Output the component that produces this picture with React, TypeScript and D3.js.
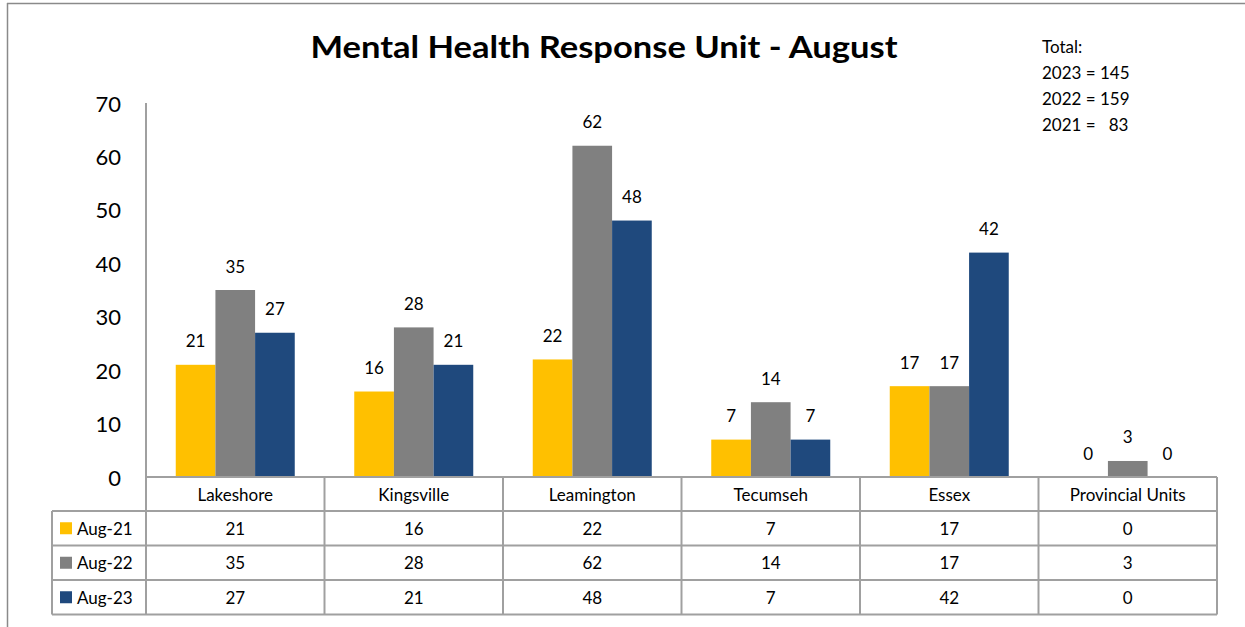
import React from 'react';
import * as d3 from 'd3';

const categories = ['Lakeshore', 'Kingsville', 'Leamington', 'Tecumseh', 'Essex', 'Provincial Units'];
const seriesNames = ['Aug-21', 'Aug-22', 'Aug-23'];
const aug21 = [21, 16, 22, 7, 17, 0];
const aug22 = [35, 28, 62, 14, 17, 3];
const aug23 = [27, 21, 48, 7, 42, 0];
const seriesColors = ['#FFC000', '#808080', '#1F497D'];
const yTicks = [0, 10, 20, 30, 40, 50, 60, 70];
const totalLines = ['Total:', '2023 = 145', '2022 = 159', '2021 =   83'];

const W = 1245;
const H = 627;
const FONT = 'Lato, "Open Sans", sans-serif';
const GRID = '#a0a0a0';

const App = () => {
  const series = [aug21, aug22, aug23];

  const x = d3.scaleBand().domain(categories).range([146, 1217]).paddingInner(0).paddingOuter(0);
  const xInner = d3.scaleBand().domain(seriesNames).range([0, x.bandwidth()]).paddingInner(0).paddingOuter(0.75);
  const y = d3.scaleLinear().domain([0, 70]).range([477, 103]);

  const headerTop = y(0);
  const rowH = 34.5;
  const headerBottom = headerTop + 34;
  const tableBottom = headerBottom + rowH * 3;
  const legendLeft = 52;

  return (
    <svg width={W} height={H} style={{ position: 'absolute', left: 0, top: 0, background: '#fff' }} fontFamily={FONT}>
      {/* outer frame */}
      <line x1={7.5} x2={7.5} y1={3} y2={H} stroke="#8a8a8a" strokeWidth={1.5} />
      <line x1={7} x2={W} y1={3.5} y2={3.5} stroke="#8a8a8a" strokeWidth={1.5} />

      <text x={604} y={58} textAnchor="middle" fontSize={30} fontWeight={700} fill="#000"
        textLength={587} lengthAdjust="spacingAndGlyphs">
        Mental Health Response Unit - August
      </text>

      {totalLines.map((t, i) => (
        <text key={t} x={1042} y={53 + i * 26} fontSize={17} fill="#000" style={{ whiteSpace: 'pre' }}>
          {t}
        </text>
      ))}

      {/* y axis */}
      <line x1={146} x2={146} y1={y(70)} y2={y(0)} stroke={GRID} strokeWidth={2} />
      {yTicks.map((t) => (
        <text key={t} x={121} y={y(t)} textAnchor="end" dominantBaseline="central" fontSize={22} fill="#000">
          {t}
        </text>
      ))}

      {/* bars */}
      {series.map((vals, si) => (
        <g key={seriesNames[si]}>
          {categories.map((c, ci) => {
            const bx = (x(c) ?? 0) + (xInner(seriesNames[si]) ?? 0);
            const v = vals[ci];
            return (
              <g key={c}>
                {v > 0 && (
                  <rect x={bx} y={y(v)} width={xInner.bandwidth()} height={y(0) - y(v)} fill={seriesColors[si]} />
                )}
                <text x={bx + xInner.bandwidth() / 2} y={y(v) - 24} textAnchor="middle" dominantBaseline="central"
                  fontSize={17} fill="#000">
                  {v}
                </text>
              </g>
            );
          })}
        </g>
      ))}

      {/* data table */}
      <g stroke={GRID} strokeWidth={2} fill="none">
        <line x1={146} x2={1217} y1={headerTop} y2={headerTop} />
        {[0, 1, 2, 3].map((r) => (
          <line key={r} x1={legendLeft} x2={1217} y1={headerBottom + r * rowH} y2={headerBottom + r * rowH} />
        ))}
        <line x1={legendLeft} x2={legendLeft} y1={headerBottom} y2={tableBottom} />
        {categories.map((c) => (
          <line key={c} x1={x(c)} x2={x(c)} y1={headerTop} y2={tableBottom} />
        ))}
        <line x1={1217} x2={1217} y1={headerTop} y2={tableBottom} />
      </g>
      {categories.map((c) => (
        <text key={c} x={(x(c) ?? 0) + x.bandwidth() / 2} y={headerTop + 17} textAnchor="middle"
          dominantBaseline="central" fontSize={17} fill="#000">
          {c}
        </text>
      ))}
      {series.map((vals, si) => {
        const cy = headerBottom + rowH * si + rowH / 2;
        return (
          <g key={seriesNames[si]}>
            <rect x={60} y={cy - 6} width={12} height={12} fill={seriesColors[si]} />
            <text x={77} y={cy} dominantBaseline="central" fontSize={17} fill="#000">{seriesNames[si]}</text>
            {categories.map((c, ci) => (
              <text key={c} x={(x(c) ?? 0) + x.bandwidth() / 2} y={cy} textAnchor="middle"
                dominantBaseline="central" fontSize={17} fill="#000">
                {vals[ci]}
              </text>
            ))}
          </g>
        );
      })}
    </svg>
  );
};

export default App;
